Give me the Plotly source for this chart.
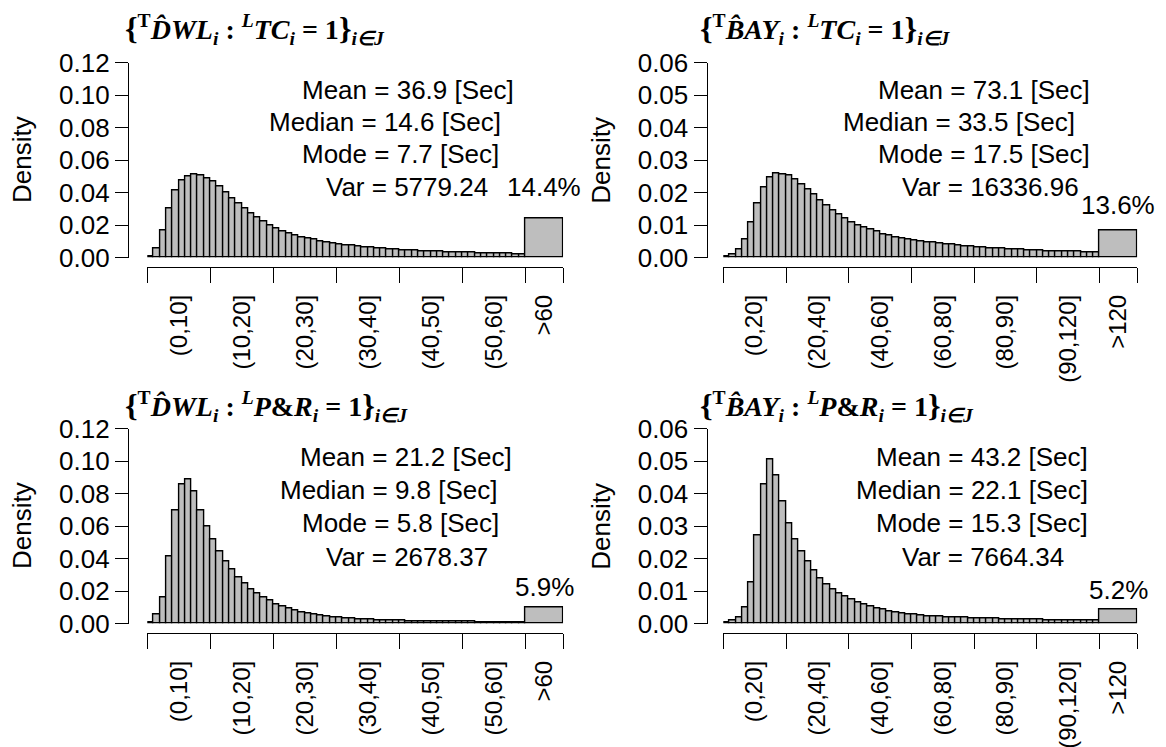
import plotly.graph_objects as go

W, H = 1166, 747
OFF = 8  # the page body has a default 8 px margin around the figure

# ---------------- data ----------------
dwl_tc = [0.0006, 0.0057, 0.0167, 0.0300, 0.0413, 0.0473, 0.0500, 0.0508, 0.0506, 0.0489,
          0.0469, 0.0438, 0.0403, 0.0366, 0.0331, 0.0300, 0.0273, 0.0247, 0.0222, 0.0200,
          0.0179, 0.0162, 0.0148, 0.0136, 0.0125, 0.0115, 0.0109, 0.0101, 0.0094, 0.0088,
          0.0082, 0.0076, 0.0071, 0.0067, 0.0063, 0.0060, 0.0057, 0.0054, 0.0051, 0.0049,
          0.0046, 0.0044, 0.0042, 0.0040, 0.0038, 0.0036, 0.0035, 0.0033, 0.0032, 0.0031,
          0.0029, 0.0028, 0.0027, 0.0026, 0.0025, 0.0024, 0.0023, 0.0022, 0.0021, 0.0020]
dwl_tc_over = 0.0240

bay_tc = [0.0002, 0.0008, 0.0024, 0.0054, 0.0107, 0.0166, 0.0214, 0.0246, 0.0258, 0.0256,
          0.0251, 0.0241, 0.0226, 0.0210, 0.0193, 0.0174, 0.0159, 0.0144, 0.0131, 0.0119,
          0.0109, 0.0100, 0.0092, 0.0085, 0.0079, 0.0072, 0.0067, 0.0063, 0.0059, 0.0056,
          0.0053, 0.0050, 0.0047, 0.0045, 0.0043, 0.0041, 0.0039, 0.0037, 0.0035, 0.0034,
          0.0032, 0.0031, 0.0029, 0.0028, 0.0027, 0.0026, 0.0025, 0.0024, 0.0023, 0.0022,
          0.0021, 0.0020, 0.0019, 0.0019, 0.0018, 0.0017, 0.0017, 0.0016, 0.0016, 0.0015]
bay_tc_over = 0.0084

dwl_pr = [0.0006, 0.0053, 0.0163, 0.0410, 0.0695, 0.0858, 0.0885, 0.0815, 0.0697, 0.0596,
          0.0514, 0.0443, 0.0381, 0.0330, 0.0283, 0.0246, 0.0211, 0.0184, 0.0160, 0.0139,
          0.0119, 0.0104, 0.0092, 0.0080, 0.0070, 0.0061, 0.0053, 0.0047, 0.0042, 0.0038,
          0.0034, 0.0031, 0.0028, 0.0026, 0.0024, 0.0022, 0.0020, 0.0019, 0.0018, 0.0017,
          0.0016, 0.0015, 0.0014, 0.0013, 0.0013, 0.0012, 0.0012, 0.0011, 0.0011, 0.0010,
          0.0010, 0.0010, 0.0009, 0.0009, 0.0009, 0.0008, 0.0008, 0.0008, 0.0008, 0.0007]
dwl_pr_over = 0.0098

bay_pr = [0.0002, 0.0008, 0.0018, 0.0049, 0.0126, 0.0270, 0.0429, 0.0506, 0.0455, 0.0375,
          0.0308, 0.0260, 0.0222, 0.0191, 0.0162, 0.0140, 0.0121, 0.0106, 0.0092, 0.0082,
          0.0073, 0.0065, 0.0058, 0.0051, 0.0046, 0.0042, 0.0038, 0.0034, 0.0031, 0.0029,
          0.0027, 0.0025, 0.0023, 0.0022, 0.0021, 0.0020, 0.0019, 0.0018, 0.0017, 0.0016,
          0.0015, 0.0015, 0.0014, 0.0014, 0.0013, 0.0013, 0.0012, 0.0012, 0.0011, 0.0011,
          0.0011, 0.0010, 0.0010, 0.0010, 0.0009, 0.0009, 0.0009, 0.0009, 0.0008, 0.0008]
bay_pr_over = 0.0044

labels_dwl = ["(0,10]", "(10,20]", "(20,30]", "(30,40]", "(40,50]", "(50,60]", ">60"]
labels_bay = ["(0,20]", "(20,40]", "(40,60]", "(60,80]", "(80,90]", "(90,120]", ">120"]

ticks_dwl_y = ["0.00", "0.02", "0.04", "0.06", "0.08", "0.10", "0.12"]
ticks_bay_y = ["0.00", "0.01", "0.02", "0.03", "0.04", "0.05", "0.06"]

stats_dwl_tc = ["Mean = 36.9 [Sec]", "Median = 14.6 [Sec]", "Mode = 7.7 [Sec]", "Var = 5779.24"]
stats_bay_tc = ["Mean = 73.1 [Sec]", "Median = 33.5 [Sec]", "Mode = 17.5 [Sec]", "Var = 16336.96"]
stats_dwl_pr = ["Mean = 21.2 [Sec]", "Median = 9.8 [Sec]", "Mode = 5.8 [Sec]", "Var = 2678.37"]
stats_bay_pr = ["Mean = 43.2 [Sec]", "Median = 22.1 [Sec]", "Mode = 15.3 [Sec]", "Var = 7664.34"]

pct_labels = ["14.4%", "13.6%", "5.9%", "5.2%"]

BR_ = "<span style='font-size:32px'>"
titles = [
    "<b>" + BR_ + "{</span><sup>T</sup><i>D̂WL</i><sub><i>i</i></sub> : <sup><i>L</i></sup><i>TC</i><sub><i>i</i></sub> = 1" + BR_ + "}</span><sub><i>i∈J</i></sub></b>",
    "<b>" + BR_ + "{</span><sup>T</sup><i>B̂AY</i><sub><i>i</i></sub> : <sup><i>L</i></sup><i>TC</i><sub><i>i</i></sub> = 1" + BR_ + "}</span><sub><i>i∈J</i></sub></b>",
    "<b>" + BR_ + "{</span><sup>T</sup><i>D̂WL</i><sub><i>i</i></sub> : <sup><i>L</i></sup><i>P</i>&amp;<i>R</i><sub><i>i</i></sub> = 1" + BR_ + "}</span><sub><i>i∈J</i></sub></b>",
    "<b>" + BR_ + "{</span><sup>T</sup><i>B̂AY</i><sub><i>i</i></sub> : <sup><i>L</i></sup><i>P</i>&amp;<i>R</i><sub><i>i</i></sub> = 1" + BR_ + "}</span><sub><i>i∈J</i></sub></b>",
]

# ---------------- layout helpers ----------------
def px(x):
    return (x - OFF) / W

def py(y):
    return 1 - (y - OFF) / H

SANS = "Liberation Sans, Arial, sans-serif"
SERIF = "Liberation Serif, Times New Roman, serif"
FILL = "#BEBEBE"
LW = 1.4

panels = [
    dict(vals=dwl_tc, over=dwl_tc_over, bw=1, ow=6, ymax=0.12, ylab=ticks_dwl_y, xlab=labels_dwl,
         stats=stats_dwl_tc, pct=pct_labels[0], title=titles[0],
         xd=(147.3, 563.1), yd=(62.5, 257.5), yaxpos=128, xaxpos=267,
         stat_x=[408, 385, 400, 407], stat_y=[90, 122, 154, 187], pct_y=187, title_x=123, title_y=29),
    dict(vals=bay_tc, over=bay_tc_over, bw=2, ow=12, ymax=0.06, ylab=ticks_bay_y, xlab=labels_bay,
         stats=stats_bay_tc, pct=pct_labels[1], title=titles[1],
         xd=(723.3, 1137.3), yd=(62.5, 257.5), yaxpos=706.7, xaxpos=267,
         stat_x=[984, 959, 984, 990], stat_y=[90, 122, 154, 187], pct_y=205, title_x=698, title_y=29),
    dict(vals=dwl_pr, over=dwl_pr_over, bw=1, ow=6, ymax=0.12, ylab=ticks_dwl_y, xlab=labels_dwl,
         stats=stats_dwl_pr, pct=pct_labels[2], title=titles[2],
         xd=(147.3, 563.1), yd=(428.5, 623.5), yaxpos=128, xaxpos=633,
         stat_x=[406, 389, 400, 407], stat_y=[457, 490, 523, 557], pct_y=587, title_x=123, title_y=406),
    dict(vals=bay_pr, over=bay_pr_over, bw=2, ow=12, ymax=0.06, ylab=ticks_bay_y, xlab=labels_bay,
         stats=stats_bay_pr, pct=pct_labels[3], title=titles[3],
         xd=(723.3, 1137.3), yd=(428.5, 623.5), yaxpos=706.7, xaxpos=633,
         stat_x=[982, 972, 982, 983], stat_y=[457, 490, 523, 557], pct_y=590, title_x=698, title_y=406),
]

fig = go.Figure()
annotations = []
layout = {}

for i, p in enumerate(panels, start=1):
    sfx = "" if i == 1 else str(i)
    n = len(p["vals"])
    bw = p["bw"]
    xs = [bw * (k + 0.5) for k in range(n)]
    widths = [bw] * n
    top = bw * n
    xs.append(top + p["ow"] / 2)
    widths.append(p["ow"])
    ys = list(p["vals"]) + [p["over"]]

    fig.add_trace(go.Bar(
        x=xs, y=ys, width=widths,
        marker=dict(color=FILL, line=dict(color="black", width=LW)),
        xaxis="x" + sfx, yaxis="y" + sfx, showlegend=False, hoverinfo="skip",
    ))

    xmax = top + p["ow"]
    nb = len(p["xlab"]) - 1
    step = top / nb
    bounds = [step * k for k in range(nb + 1)] + [xmax]
    mids = [(bounds[k] + bounds[k + 1]) / 2 for k in range(len(bounds) - 1)]

    layout["xaxis" + sfx] = dict(
        domain=[px(p["xd"][0]), px(p["xd"][1])], range=[0, xmax],
        anchor="free", position=py(p["xaxpos"]), automargin=False,
        showgrid=False, zeroline=False, showline=True, linecolor="black", linewidth=LW,
        tickmode="array", tickvals=mids, ticktext=p["xlab"], tickangle=-90,
        ticks="outside", ticklen=17, tickcolor="rgba(0,0,0,0)",
        tickfont=dict(family=SANS, size=24, color="black"),
        minor=dict(tickmode="array", tickvals=bounds, ticks="outside", ticklen=15,
                   tickcolor="black", tickwidth=LW, showgrid=False),
        fixedrange=True,
    )
    yt = [p["ymax"] * k / 6 for k in range(7)]
    layout["yaxis" + sfx] = dict(
        domain=[py(p["yd"][1]), py(p["yd"][0])], range=[0, p["ymax"]],
        anchor="free", position=px(p["yaxpos"]), automargin=False,
        showgrid=False, zeroline=False, showline=True, linecolor="black", linewidth=LW,
        tickmode="array", tickvals=yt, ticktext=p["ylab"],
        ticks="outside", ticklen=13, tickcolor="black", tickwidth=LW,
        tickfont=dict(family=SANS, size=26, color="black"),
        fixedrange=True,
    )

    # Density label
    annotations.append(dict(
        text="Density", textangle=-90, xref="paper", yref="paper",
        x=px(p["yaxpos"] - 106), y=py((p["yd"][0] + p["yd"][1]) / 2),
        xanchor="center", yanchor="middle", showarrow=False,
        font=dict(family=SANS, size=26, color="black"),
    ))
    # stats
    for t, cx, cy in zip(p["stats"], p["stat_x"], p["stat_y"]):
        annotations.append(dict(
            text=t, xref="paper", yref="paper", x=px(cx), y=py(cy),
            xanchor="center", yanchor="middle", showarrow=False,
            font=dict(family=SANS, size=26, color="black"),
        ))
    # percentage above the overflow bar
    annotations.append(dict(
        text=p["pct"], xref="x" + sfx, yref="paper", x=top + p["ow"] / 2, y=py(p["pct_y"]),
        xanchor="center", yanchor="middle", showarrow=False,
        font=dict(family=SANS, size=26, color="black"),
    ))
    # title
    annotations.append(dict(
        text=p["title"], xref="paper", yref="paper", x=px(p["title_x"]), y=py(p["title_y"]),
        xanchor="left", yanchor="middle", showarrow=False,
        font=dict(family=SERIF, size=28, color="black"),
    ))

fig.update_layout(
    width=W, height=H,
    margin=dict(l=0, r=0, t=0, b=0, autoexpand=False),
    paper_bgcolor="white", plot_bgcolor="white",
    bargap=0, showlegend=False,
    annotations=annotations,
    **layout,
)

fig.write_html("out.html")
